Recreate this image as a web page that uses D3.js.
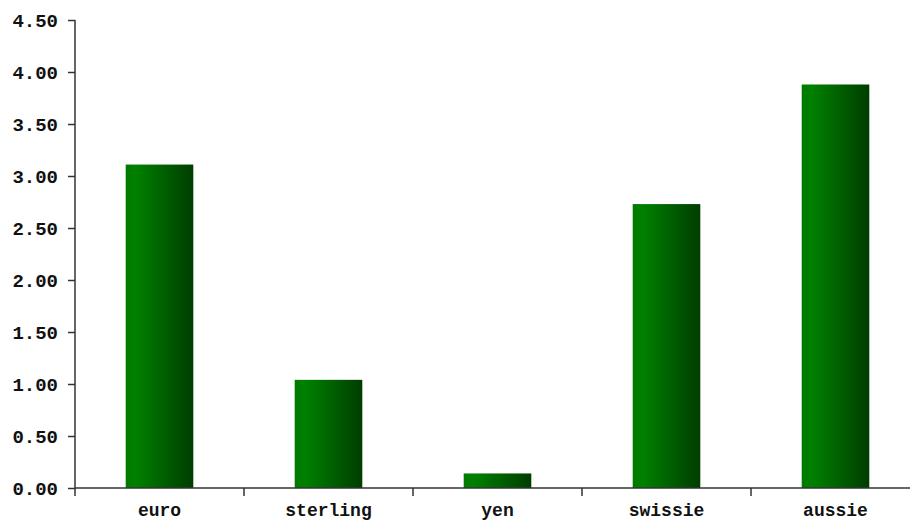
<!DOCTYPE html>
<html>
<head>
<meta charset="utf-8">
<script src="https://cdn.jsdelivr.net/npm/d3@7"></script>
<style>
  body { margin: 0; background: #fff; }
  text { font-family: "Liberation Mono", "DejaVu Sans Mono", monospace; font-weight: bold; fill: #111; }
</style>
</head>
<body>
<script>
// Chart data
const categories = ["euro", "sterling", "yen", "swissie", "aussie"];
const values = [3.11, 1.04, 0.14, 2.73, 3.88];
const yTicks = [0, 0.5, 1, 1.5, 2, 2.5, 3, 3.5, 4, 4.5];

const width = 910, height = 520;
const plotLeft = 75, plotRight = 920, plotTop = 20, plotBottom = 488;

const svg = d3.select("body").append("svg")
    .attr("width", width)
    .attr("height", height);

// Horizontal green gradient for the bars
const grad = svg.append("defs").append("linearGradient")
    .attr("id", "barGrad")
    .attr("x1", "0%").attr("x2", "100%")
    .attr("y1", "0%").attr("y2", "0%");
grad.append("stop").attr("offset", "0%").attr("stop-color", "#007a00");
grad.append("stop").attr("offset", "15%").attr("stop-color", "#008000");
grad.append("stop").attr("offset", "100%").attr("stop-color", "#003d00");

const x = d3.scaleBand()
    .domain(categories)
    .range([plotLeft, plotRight])
    .paddingInner(0.6)
    .paddingOuter(0.3);

// Band scale without padding, used for the tick marks between categories
const xEdge = d3.scaleBand()
    .domain(categories)
    .range([plotLeft, plotRight]);

const y = d3.scaleLinear()
    .domain([0, 4.5])
    .range([plotBottom, plotTop]);

// Bars
svg.selectAll(".bar")
    .data(values)
    .enter().append("rect")
    .attr("class", "bar")
    .attr("x", (d, i) => x(categories[i]))
    .attr("y", d => y(d))
    .attr("width", x.bandwidth())
    .attr("height", d => y(0) - y(d))
    .attr("fill", "url(#barGrad)");

// Y axis
const yAxis = d3.axisLeft(y)
    .tickValues(yTicks)
    .tickFormat(d3.format(".2f"))
    .tickSize(7)
    .tickPadding(10);

const gy = svg.append("g")
    .attr("transform", `translate(${plotLeft},0)`)
    .call(yAxis);
gy.select(".domain").remove();
gy.selectAll(".tick line").attr("stroke", "#333").attr("stroke-width", 1.5);
gy.selectAll(".tick text")
    .style("font-size", "19px")
    .style("font-family", "'Liberation Mono', monospace")
    .style("font-weight", "bold")
    .attr("fill", "#111");
gy.append("line")
    .attr("x1", 0).attr("x2", 0)
    .attr("y1", plotTop).attr("y2", plotBottom)
    .attr("stroke", "#333").attr("stroke-width", 1.5);

// X axis
const gx = svg.append("g");
gx.append("line")
    .attr("x1", plotLeft).attr("x2", width)
    .attr("y1", plotBottom).attr("y2", plotBottom)
    .attr("stroke", "#333").attr("stroke-width", 1.5);
gx.selectAll(".xtick")
    .data(categories)
    .enter().append("line")
    .attr("class", "xtick")
    .attr("x1", d => xEdge(d)).attr("x2", d => xEdge(d))
    .attr("y1", plotBottom).attr("y2", plotBottom + 8)
    .attr("stroke", "#333").attr("stroke-width", 1.5);
gx.selectAll(".xlabel")
    .data(categories)
    .enter().append("text")
    .attr("class", "xlabel")
    .attr("x", d => x(d) + x.bandwidth() / 2)
    .attr("y", 516)
    .attr("text-anchor", "middle")
    .style("font-size", "18px")
    .text(d => d);
</script>
</body>
</html>
